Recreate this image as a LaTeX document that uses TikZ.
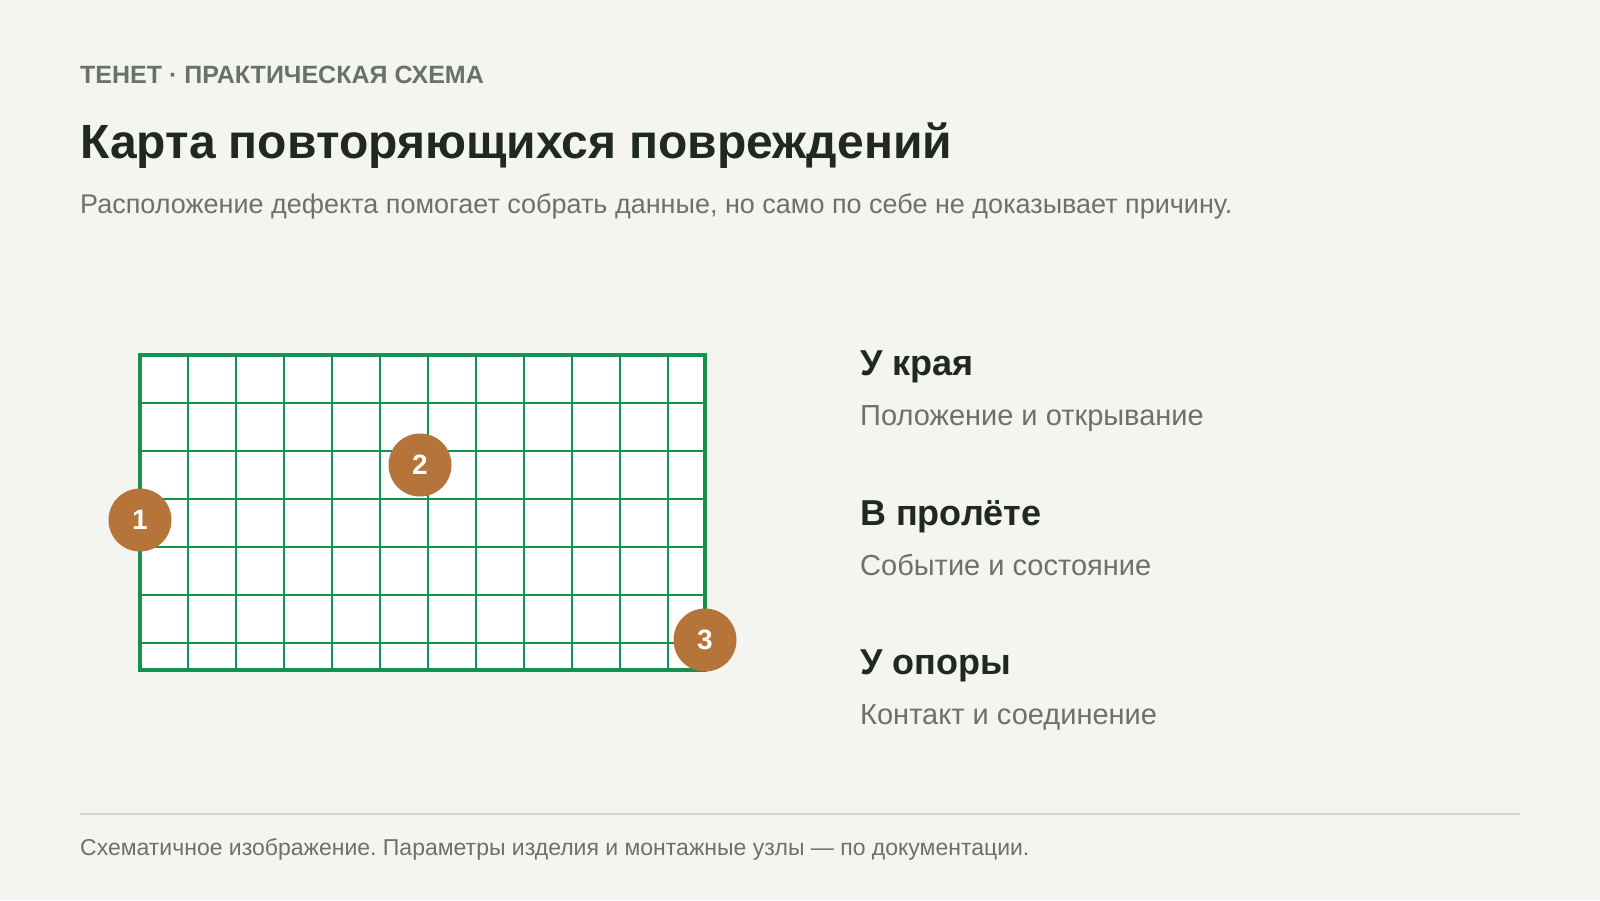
\documentclass[tikz,border=0pt]{standalone}
\usepackage{fontspec}
\setmainfont{Liberation Sans}
\usepackage{xcolor}
\usetikzlibrary{positioning}
\frenchspacing

\definecolor{paper}{HTML}{F4F5F0}
\definecolor{ink}{HTML}{1F2921}
\definecolor{muted}{HTML}{6C716B}
\definecolor{kick}{HTML}{687366}
\definecolor{mesh}{HTML}{14924E}
\definecolor{copper}{HTML}{B5743A}
\definecolor{rule}{HTML}{D3D6CF}

\begin{document}
\begin{tikzpicture}[
    x=1pt, y=-1pt,
    every node/.style={inner sep=0pt, anchor=base west},
    kicker/.style={font=\fontsize{25}{30}\selectfont\bfseries, text=kick},
    headline/.style={font=\fontsize{48}{56}\selectfont\bfseries, text=ink},
    lede/.style={font=\fontsize{27}{32}\selectfont, text=muted},
    zonehead/.style={font=\fontsize{36}{42}\selectfont\bfseries, text=ink},
    zonesub/.style={font=\fontsize{29}{34}\selectfont, text=muted},
    note/.style={font=\fontsize{23}{28}\selectfont, text=muted},
    badge/.style={circle, fill=copper, minimum size=63pt, anchor=center,
        text=white, font=\fontsize{28}{32}\selectfont\bfseries}
]

\fill[paper] (0,0) rectangle (1600,900);

\node[kicker] (kicker) at (80,83) {ТЕНЕТ · ПРАКТИЧЕСКАЯ СХЕМА};
\node[headline] (title) at (80,158) {Карта повторяющихся повреждений};
\node[lede] (lede) at (80,213) {Расположение дефекта помогает собрать данные, но само по себе не доказывает причину.};

% panel with mesh
\fill[white] (140,355) rectangle (705,670);
\foreach \i in {1,...,11}
    \draw[mesh, line width=2.8pt] (140+48*\i,355) -- (140+48*\i,670);
\foreach \j in {1,...,6}
    \draw[mesh, line width=2.8pt] (140,355+48*\j) -- (705,355+48*\j);
\draw[mesh, line width=3.6pt] (140,355) rectangle (705,670);

\node[badge] (spot1) at (140,520) {1};
\node[badge] (spot2) at (420,465) {2};
\node[badge] (spot3) at (705,640) {3};

\node[zonehead] (edge) at (860,375) {У края};
\node[zonesub] (edgesub) at (860,425) {Положение и открывание};
\node[zonehead] (span) at (860,525) {В пролёте};
\node[zonesub] (spansub) at (860,575) {Событие и состояние};
\node[zonehead] (support) at (860,674) {У опоры};
\node[zonesub] (supportsub) at (860,724) {Контакт и соединение};

\draw[rule, line width=2pt] (80,814) -- (1520,814);
\node[note] (footer) at (80,855) {Схематичное изображение. Параметры изделия и монтажные узлы — по документации.};

\end{tikzpicture}
\end{document}
